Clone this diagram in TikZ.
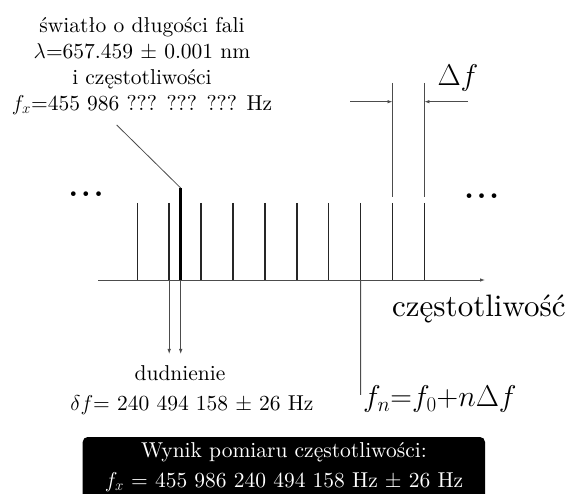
\RequirePackage{fix-cm}
\documentclass[tikz,border=0pt]{standalone}
\usepackage{fontspec}
\setmainfont{lmroman10}[Extension=.otf, UprightFont=*-regular, BoldFont=*-bold,
  ItalicFont=*-italic, BoldItalicFont=*-bolditalic]
\usetikzlibrary{arrows.meta,positioning}

\begin{document}
\begin{tikzpicture}[
  x=1pt, y=-1pt, >={Latex[length=5pt,width=3.5pt]},
  txt/.style   ={inner sep=0pt, align=center, font=\fontsize{21.5}{26}\selectfont},
  bigtxt/.style={inner sep=0pt, font=\fontsize{31}{36}\selectfont},
  formula/.style={inner sep=0pt, font=\fontsize{30}{36}\selectfont},
  dotrow/.style={inner sep=0pt, font=\fontsize{30}{32}\selectfont\bfseries},
  tooth/.style ={line width=1.5pt, black!85},
  guide/.style ={line width=0.8pt, black!70},
]
\useasboundingbox (0,0) rectangle (568,494);

% frequency axis
\coordinate (ax0) at (98,280);
\coordinate (ax1) at (485,280);
\draw[guide, ->] (ax0) -- (ax1);

% comb of modes
\foreach \i in {0,...,9} {
  \coordinate (t\i) at ({137.3+31.9*\i},203);
  \coordinate (b\i) at ({137.3+31.9*\i},280);
  \draw[tooth] (t\i) -- (b\i);
}
% measured line f_x
\coordinate (xt) at (180.7,188);
\coordinate (xb) at (180.7,280);
\draw[line width=3pt] (xt) -- (xb);

\node[dotrow] (ldots) at (86,194) {.\kern3pt.\kern3pt.};
\node[dotrow] (rdots) at (481.7,196) {.\kern3pt.\kern3pt.};

% label of the measured light
\node[txt] (light) at (142,66)
  {światło o długości fali\\
   $\lambda$=657.459 $\pm$ 0.001 nm\\
   i częstotliwości\\
   $f_x$=455 986 ??? ??? ??? Hz};
\coordinate (lead) at (116.7,125);
\draw[guide] (lead) -- (xt);

% spacing of the comb
\coordinate (e8t) at (392.5,83);
\coordinate (e8b) at (392.5,197);
\coordinate (e9t) at (424.4,83);
\coordinate (e9b) at (424.4,197);
\draw[guide] (e8t) -- (e8b);
\draw[guide] (e9t) -- (e9b);
\coordinate (a8) at (350,101.7);
\coordinate (a8e) at (392.5,101.7);
\coordinate (a9) at (468,101.7);
\coordinate (a9e) at (424.4,101.7);
\draw[guide, ->] (a8) -- (a8e);
\draw[guide, ->] (a9) -- (a9e);
\node[formula] (df) at (458,78) {$\Delta f$};

% beat note
\coordinate (bt1) at (169.2,354);
\coordinate (btx) at (180.7,354);
\draw[guide, ->] (b1) -- (bt1);
\draw[guide, ->] (xb) -- (btx);
\node[txt] (beat) at (180,373) {dudnienie};
\node[txt] (beatval) at (192,405) {$\delta f$= 240 494 158 $\pm$ 26 Hz};

% axis label and n-th mode
\node[bigtxt, anchor=base west] (freq) at (392,317) {częstotliwość};
\coordinate (fnb) at (360.6,395);
\draw[guide] (b7) -- (fnb);
\node[formula, anchor=west] (fn) at (363,399) {$f_n{=}f_0{+}n\Delta f$};

% result box
\coordinate (boxa) at (82.7,437);
\coordinate (boxb) at (485,505);
\fill[black, rounded corners=5pt] (boxa) rectangle (boxb);
\node[txt, text=white, font=\fontsize{21.5}{30}\selectfont] (result) at (284,467)
  {Wynik pomiaru częstotliwości:\\
   $f_x$ = 455 986 240 494 158 Hz $\pm$ 26 Hz};
\end{tikzpicture}
\end{document}
